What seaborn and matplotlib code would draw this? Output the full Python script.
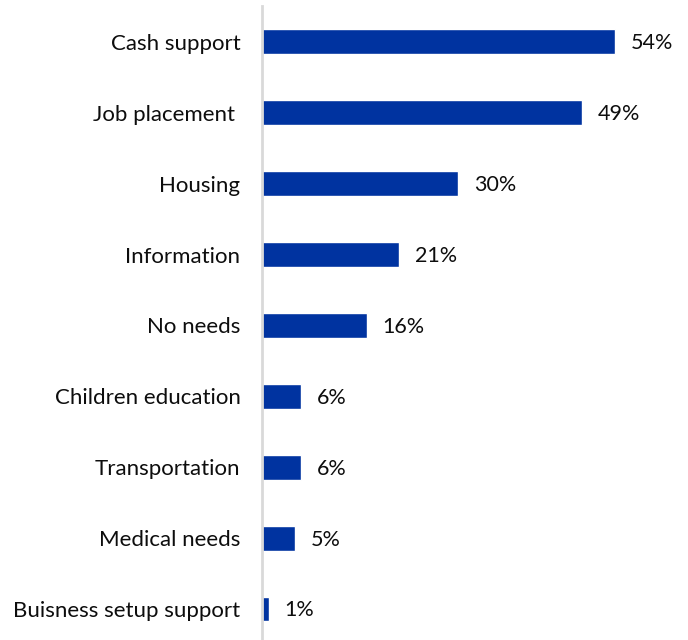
import matplotlib
matplotlib.use("Agg")
import matplotlib.pyplot as plt
import seaborn as sns
import pandas as pd

categories = ["Cash support", "Job placement ", "Housing", "Information", "No needs",
              "Children education", "Transportation", "Medical needs", "Buisness setup support"]
shares = [54, 49, 30, 21, 16, 6, 6, 5, 1]

df = pd.DataFrame({"need": categories, "share": shares})

sns.set_theme(style="white")
plt.rcParams["font.family"] = ["Lato", "DejaVu Sans"]

fig = plt.figure(figsize=(6.88, 6.4), dpi=100)
ax = fig.add_axes([262 / 688, -0.007, 392 / 688, 0.997])

sns.barplot(data=df, x="share", y="need", color="#0033A0", width=0.35,
            orient="h", ax=ax, saturation=1)

ax.set_xlim(0, 60)
ax.set_ylim(8.5, -0.5)
ax.set_xlabel("")
ax.set_ylabel("")
ax.set_xticks([])
for side in ["top", "right", "bottom"]:
    ax.spines[side].set_visible(False)
ax.spines["left"].set_color("#D9D9D9")
ax.spines["left"].set_linewidth(2)
ax.tick_params(axis="y", length=0, pad=15.5, labelsize=16, labelcolor="#0D0D0D")

for i, v in enumerate(shares):
    ax.text(v + 2.45, i + 0.02, f"{v}%", va="center", ha="left", fontsize=15.5, color="#0D0D0D")

fig.savefig("out.png", dpi=100)
